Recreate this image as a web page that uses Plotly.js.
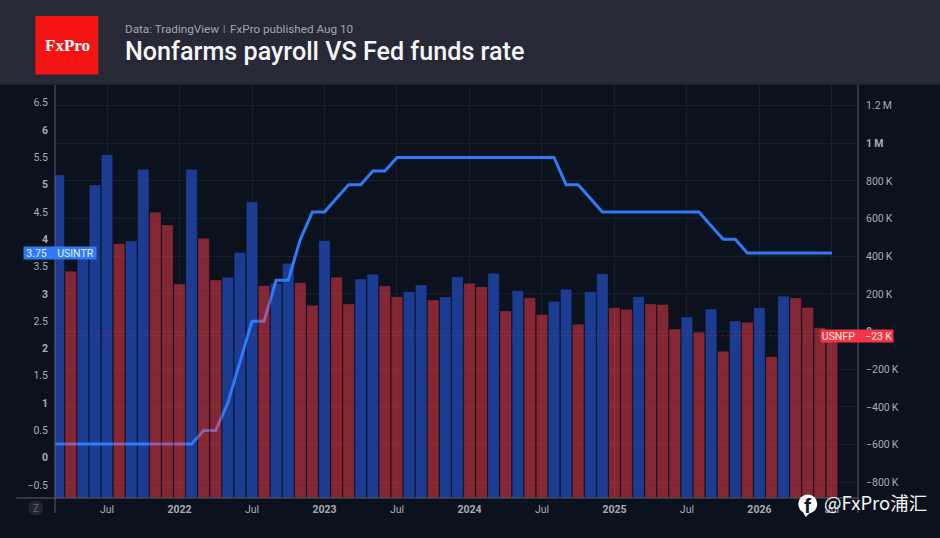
<!DOCTYPE html>
<html><head><meta charset="utf-8">
<script src="https://cdn.plot.ly/plotly-3.0.1.min.js"></script>
<style>html,body{margin:0;padding:0;background:#0b121e}#c{width:940px;height:538px}</style>
</head><body><div id="c"></div>
<script>
const months = ["2021-02","2021-03","2021-04","2021-05","2021-06","2021-07","2021-08","2021-09","2021-10","2021-11","2021-12",
"2022-01","2022-02","2022-03","2022-04","2022-05","2022-06","2022-07","2022-08","2022-09","2022-10","2022-11","2022-12",
"2023-01","2023-02","2023-03","2023-04","2023-05","2023-06","2023-07","2023-08","2023-09","2023-10","2023-11","2023-12",
"2024-01","2024-02","2024-03","2024-04","2024-05","2024-06","2024-07","2024-08","2024-09","2024-10","2024-11","2024-12",
"2025-01","2025-02","2025-03","2025-04","2025-05","2025-06","2025-07","2025-08","2025-09","2025-10","2025-11","2025-12",
"2026-01","2026-02","2026-03","2026-04","2026-05","2026-06","2026-07"];
const usnfp = [null,831,320,422,778,939,466,480,861,633,565,
252,861,495,273,288,420,689,243,256,362,259,139,
482,288,146,279,304,242,185,211,247,167,183,291,
256,238,309,109,217,179,89,160,224,38,211,307,
126,118,185,146,144,13,77,-4,119,-105,56,49,
126,-134,187,178,128,20,-23];
const barDir = ["","u","d","u","u","u","d","u","u","d","d",
"d","u","d","d","u","u","u","d","u","u","d","d",
"u","d","d","u","u","d","d","u","u","d","u","u",
"d","d","u","d","u","d","d","u","u","d","u","u",
"d","d","u","d","d","d","u","d","u","d","u","d",
"u","d","u","d","d","d","d"];
const usintr = [0.25,0.25,0.25,0.25,0.25,0.25,0.25,0.25,0.25,0.25,0.25,
0.25,0.25,0.5,0.5,1,1.75,2.5,2.5,3.25,3.25,4,4.5,
4.5,4.75,5,5,5.25,5.25,5.5,5.5,5.5,5.5,5.5,5.5,
5.5,5.5,5.5,5.5,5.5,5.5,5.5,5.5,5,5,4.75,4.5,
4.5,4.5,4.5,4.5,4.5,4.5,4.5,4.5,4.25,4,4,3.75,
3.75,3.75,3.75,3.75,3.75,3.75,3.75];
const xTickVals = ["2021-07","2022-01","2022-07","2023-01","2023-07","2024-01","2024-07","2025-01","2025-07","2026-01","2026-07"];
const xTickText = ["Jul","<b>2022</b>","Jul","<b>2023</b>","Jul","<b>2024</b>","Jul","<b>2025</b>","Jul","<b>2026</b>","Jul"];
const rightVals = [1200000,1000000,800000,600000,400000,200000,0,-200000,-400000,-600000,-800000];
const rightText = ["1.2\u2009M","<b>1\u2009M</b>","800\u2009K","600\u2009K","400\u2009K","200\u2009K","<b>0</b>","−200\u2009K","−400\u2009K","−600\u2009K","−800\u2009K"];
const leftVals = [6.5,6,5.5,5,4.5,4,3.5,3,2.5,2,1.5,1,0.5,0,-0.5];
const leftText = ["6.5","<b>6</b>","5.5","<b>5</b>","4.5","<b>4</b>","3.5","<b>3</b>","2.5","<b>2</b>","1.5","<b>1</b>","0.5","<b>0</b>","−0.5"];
const lastRate = 3.75, lastNfp = -23000;

const Y_MIN = -884000, Y_MAX = 1309000;
const BLUE = "rgba(31,67,164,0.87)", RED = "rgba(253,60,76,0.5)", LINE = "#2f7bf6", BG = "#0b121e", HEAD = "#272a36";
const AXC = "#5b5f68", GRID = "#1a2029", TXT = "#a8abb1";
const FONT = "Roboto, 'Liberation Sans', sans-serif";
const px = x => (x - 54.7) / 803.6;      // page x to paper fraction
const py = y => (498 - y) / 413;         // page y to paper fraction
const len = (v, d, want) => (d === want && v !== null) ? v * 1000 - Y_MIN : null;

const blueBars = {
  type: "bar", x: months, base: months.map(() => Y_MIN),
  y: usnfp.map((v, i) => len(v, barDir[i], "u")),
  marker: { color: BLUE, line: { color: "rgba(8,12,22,0.5)", width: 0.6 } },
  width: 0.94, yaxis: "y", hoverinfo: "skip"
};
const rate = {
  type: "scatter", mode: "lines", x: months, y: usintr, yaxis: "y2",
  line: { color: LINE, width: 3 }, hoverinfo: "skip"
};
const redBars = {
  type: "bar", x: months, base: months.map(() => Y_MIN),
  y: usnfp.map((v, i) => len(v, barDir[i], "d")),
  marker: { color: RED, line: { color: "rgba(8,12,22,0.5)", width: 0.6 } },
  width: 0.94, yaxis: "y3", hoverinfo: "skip"
};

const layout = {
  width: 940, height: 538, showlegend: false, barmode: "overlay",
  paper_bgcolor: BG, plot_bgcolor: BG,
  margin: { l: 54.7, r: 81.7, t: 85, b: 40, pad: 0 },
  font: { family: FONT, color: TXT, size: 10.5 },
  title: { text: "Nonfarms payroll VS Fed funds rate", x: 125 / 940, xanchor: "left", xref: "container",
           y: 1 - 51 / 538, yanchor: "middle", yref: "container",
           font: { family: FONT, size: 25.15, color: "#f4f5f6", weight: 500 } },
  xaxis: { type: "category", categoryorder: "array", categoryarray: months, range: [0.694, 67.16],
           tickmode: "array", tickvals: xTickVals, ticktext: xTickText, ticks: "", showline: false,
           showgrid: true, gridcolor: GRID, gridwidth: 1, zeroline: false, tickfont: { size: 10.5, color: TXT }, ticklabelstandoff: 3 },
  yaxis: { side: "right", range: [Y_MIN, Y_MAX], tickmode: "array", tickvals: rightVals, ticktext: rightText,
           showgrid: true, gridcolor: GRID, gridwidth: 1, zeroline: false, ticks: "", showline: false,
           tickfont: { size: 10.5, color: TXT }, ticklabelstandoff: 7 },
  yaxis2: { side: "left", overlaying: "y", range: [-0.738, 6.826], tickmode: "array", tickvals: leftVals, ticktext: leftText,
           showgrid: false, zeroline: false, ticks: "", showline: false,
           tickfont: { size: 10.5, color: TXT }, ticklabelstandoff: 6 },
  yaxis3: { overlaying: "y", range: [Y_MIN, Y_MAX], visible: false, showgrid: false, zeroline: false },
  shapes: [
    { type: "rect", xref: "paper", yref: "paper", x0: -1, x1: 2, y0: 1, y1: py(0), fillcolor: HEAD, line: { width: 0 }, layer: "below" },
    { type: "rect", xref: "paper", yref: "paper", x0: -1, x1: 2, y0: 1, y1: 1.002, fillcolor: "#1d202a", line: { width: 0 }, layer: "below" },
    { type: "rect", xref: "paper", yref: "paper", x0: px(35), x1: px(98), y0: py(74.5), y1: py(16), fillcolor: "#f51414", line: { width: 0 } },
    { type: "line", xref: "paper", yref: "paper", x0: 0, x1: 0, y0: py(513), y1: 1, line: { color: AXC, width: 1 } },
    { type: "line", xref: "paper", yref: "paper", x0: 1, x1: 1, y0: py(513), y1: 1, line: { color: AXC, width: 1 } },
    { type: "line", xref: "paper", yref: "paper", x0: px(16), x1: 1, y0: 0, y1: 0, line: { color: AXC, width: 1 } },
    { type: "line", xref: "paper", yref: "y", x0: 0, x1: 1, y0: lastNfp, y1: lastNfp, line: { color: "rgba(242,54,69,0.35)", width: 1, dash: "dot" } },
    { type: "circle", xref: "paper", yref: "paper", x0: px(28), x1: px(43), y0: py(515.5), y1: py(500.5), fillcolor: "#23262e", line: { width: 0 } },
    { type: "circle", xref: "paper", yref: "paper", x0: px(798.5), x1: px(817.5), y0: py(513.5), y1: py(494.5), fillcolor: "#ffffff", line: { width: 0 } },
    { type: "path", xref: "paper", yref: "paper", path: `M ${px(802)} ${py(510)} L ${px(806)} ${py(517)} L ${px(812)} ${py(511)} Z`, fillcolor: "#ffffff", line: { width: 0 } }
  ],
  annotations: [
    { xref: "paper", yref: "paper", x: px(67.5), y: py(45.5), text: "<b>FxPro</b>", showarrow: false, xanchor: "center", yanchor: "middle",
      font: { family: "'Liberation Serif', serif", size: 17, color: "#ffffff" } },
    { xref: "paper", yref: "paper", x: px(125), y: py(29), text: "Data: TradingView", showarrow: false, xanchor: "left", yanchor: "middle", xshift: -2,
      font: { family: FONT, size: 11.7, color: "#a2a5ab" } },
    { xref: "paper", yref: "paper", x: px(224), y: py(29), text: "|", showarrow: false, xanchor: "center", yanchor: "middle",
      font: { family: FONT, size: 9, color: "#a2a5ab" } },
    { xref: "paper", yref: "paper", x: px(230), y: py(29), text: "FxPro published Aug 10", showarrow: false, xanchor: "left", yanchor: "middle", xshift: -2,
      font: { family: FONT, size: 11.7, color: "#a2a5ab" } },
    { xref: "paper", yref: "y2", x: px(60), y: lastRate, text: "3.75    USINTR", showarrow: false, xanchor: "center", yanchor: "middle", bgcolor: "#2f7bf6", borderpad: 0, width: 72, height: 12,
      font: { size: 10.5, color: "#e8f0ff" } },
    { xref: "paper", yref: "y", x: px(857.4), y: lastNfp, text: "USNFP    −23\u2009K", showarrow: false, xanchor: "center", yanchor: "middle", bgcolor: "#f23645", borderpad: 0, width: 72, height: 12,
      font: { size: 10.5, color: "#ffe9eb" } },
    { xref: "paper", yref: "paper", x: px(35.5), y: py(508), text: "Z", showarrow: false, xanchor: "center", yanchor: "middle",
      font: { size: 10, color: "#62656d" } },
    { xref: "paper", yref: "paper", x: px(808.5), y: py(505.5), text: "<b>f</b>", showarrow: false, xanchor: "center", yanchor: "middle",
      font: { family: "'Liberation Sans', sans-serif", size: 21, color: "#111722" } },
    { xref: "paper", yref: "paper", x: px(822), y: py(501.5), text: "@FxPro浦汇", showarrow: false, xanchor: "left", yanchor: "middle",
      font: { family: "'Noto Sans CJK SC', sans-serif", size: 18.5, color: "#f4f4f4" } }
  ]
};
Plotly.newPlot("c", [blueBars, rate, redBars], layout, { displayModeBar: false, staticPlot: true });
</script></body></html>
